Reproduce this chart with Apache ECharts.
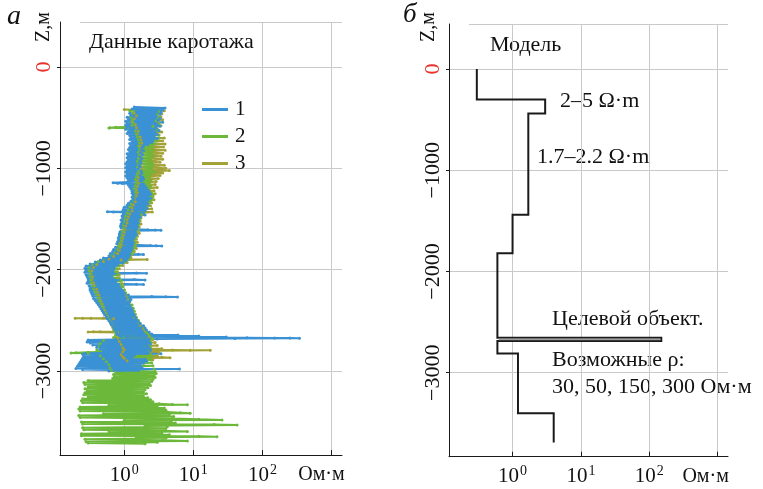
<!DOCTYPE html>
<html>
<head>
<meta charset="utf-8">
<script src="https://cdn.jsdelivr.net/npm/echarts@6/dist/echarts.min.js"></script>
<style>
  html, body { margin: 0; padding: 0; background: #fff; }
  #chart { width: 763px; height: 489px; }
</style>
</head>
<body>
<div id="chart"></div>
<script>
// Axis ranges: depth Z (m) and resistivity (Ohm·m, log scale)
const depthMin = -3830;
const depthMax = 445;
const rhoMin = 0.1175;
const rhoMax = 1420;
const seriesNames = ['1', '2', '3'];

// Well-log curve 1: [depth, resistivity]
const log1 = [
[-395,1.4],[-405,3.9],[-415,1.3],[-425,3.6],[-435,1.5],[-445,3.4],[-455,1.2],[-465,3.3],[-475,1.25],[-485,2.9],
[-495,1.1],[-505,3.3],[-515,1.15],[-525,3.1],[-535,1.05],[-545,3.6],[-555,1.1],[-565,3.0],[-575,1.05],[-585,3.3],
[-595,1.1],[-605,2.9],[-615,1.05],[-625,3.2],[-635,1.15],[-645,2.8],[-655,1.1],[-665,3.0],[-675,1.2],[-685,2.7],
[-695,1.25],[-705,3.0],[-715,1.2],[-725,2.6],[-735,1.3],[-745,2.5],[-755,1.2],[-765,2.2],[-775,1.25],[-785,1.9],
[-795,1.2],[-805,1.8],[-815,1.15],[-825,1.9],[-835,1.2],[-845,1.75],[-855,1.1],[-865,1.85],[-875,1.15],[-885,1.7],
[-895,1.1],[-905,1.8],[-915,1.15],[-925,1.7],[-935,1.1],[-945,1.75],[-955,1.05],[-965,1.65],[-975,1.1],[-985,1.7],
[-995,1.05],[-1005,1.6],[-1015,1.1],[-1025,1.75],[-1035,1.05],[-1045,1.8],[-1055,1.1],[-1065,1.7],[-1075,1.05],[-1085,1.85],
[-1095,1.1],[-1105,1.9],[-1115,1.15],[-1125,1.8],[-1135,1.1],[-1143,0.69],[-1146,0.8],[-1150,0.95],[-1155,1.9],[-1165,1.15],
[-1175,2.0],[-1185,1.2],[-1195,2.1],[-1205,1.25],[-1215,2.2],[-1225,1.3],[-1235,2.3],[-1245,1.3],[-1255,2.4],[-1265,1.35],
[-1275,2.2],[-1285,1.3],[-1295,2.4],[-1305,1.35],[-1315,2.2],[-1325,1.25],[-1335,2.1],[-1345,1.15],[-1355,2.2],[-1365,1.1],
[-1375,2.0],[-1385,1.0],[-1395,2.15],[-1405,0.97],[-1415,2.0],[-1425,0.95],[-1429,0.57],[-1432,0.7],[-1440,1.9],[-1450,0.97],
[-1460,2.0],[-1470,0.93],[-1480,1.7],[-1490,0.95],[-1500,1.6],[-1510,0.9],[-1520,1.55],[-1530,0.93],[-1540,1.6],[-1550,0.9],
[-1560,1.5],[-1570,0.88],[-1580,1.55],[-1590,0.9],[-1600,1.5],[-1607,2.2],[-1609,2.8],[-1611,3.4],[-1615,1.4],[-1625,0.87],
[-1635,1.45],[-1645,0.85],[-1655,1.5],[-1665,0.85],[-1675,1.4],[-1685,0.82],[-1695,1.35],[-1705,0.83],[-1715,1.3],[-1725,0.8],
[-1735,1.35],[-1745,0.78],[-1755,1.3],[-1762,2.4],[-1764,2.9],[-1766,3.5],[-1770,1.25],[-1780,0.75],[-1790,1.3],[-1800,0.7],
[-1810,1.25],[-1820,0.68],[-1830,1.2],[-1840,0.63],[-1848,1.6],[-1851,1.9],[-1855,1.2],[-1865,0.6],[-1875,1.15],[-1885,0.5],
[-1895,1.1],[-1905,0.45],[-1915,1.05],[-1925,0.38],[-1935,0.95],[-1945,0.32],[-1955,0.8],[-1965,0.28],[-1975,0.72],[-1985,0.27],
[-1995,0.7],[-2005,0.28],[-2015,0.68],[-2025,0.27],[-2032,1.5],[-2035,2.1],[-2040,0.7],[-2050,0.28],[-2060,0.66],[-2070,0.29],
[-2080,0.67],[-2090,0.3],[-2098,1.4],[-2101,2.0],[-2105,0.7],[-2115,0.3],[-2125,0.75],[-2135,0.29],[-2143,1.5],[-2146,1.9],
[-2150,0.8],[-2160,0.31],[-2170,0.85],[-2180,0.32],[-2190,0.9],[-2200,0.32],[-2210,0.95],[-2220,0.33],[-2230,1.0],[-2240,0.34],
[-2250,1.15],[-2260,0.35],[-2266,2.5],[-2268,4.0],[-2270,5.9],[-2275,1.2],[-2285,0.36],[-2295,1.25],[-2305,0.38],[-2315,1.2],
[-2325,0.4],[-2335,1.15],[-2345,0.42],[-2355,1.2],[-2365,0.44],[-2375,1.25],[-2385,0.46],[-2395,1.3],[-2405,0.48],[-2415,1.3],
[-2425,0.5],[-2435,1.35],[-2445,0.52],[-2455,1.4],[-2465,0.55],[-2475,1.45],[-2485,0.57],[-2495,1.5],[-2505,0.6],[-2515,1.6],
[-2525,0.63],[-2535,1.7],[-2545,0.65],[-2555,1.9],[-2565,0.7],[-2575,2.0],[-2585,0.72],[-2595,2.1],[-2605,0.75],[-2615,2.3],
[-2625,0.78],[-2635,2.5],[-2640,0.8],[-2645,6],[-2650,0.85],[-2655,12],[-2660,0.9],[-2664,30],[-2668,1.1],[-2672,60],
[-2675,150],[-2676,250],[-2677,344],[-2680,40],[-2684,3],
[-2690,0.75],[-2695,0.3],[-2700,2.2],[-2705,0.3],[-2710,2.0],[-2715,0.29],[-2720,2.3],[-2725,0.32],[-2735,2.4],[-2745,0.35],
[-2755,2.2],[-2765,0.4],[-2775,2.3],[-2785,0.45],[-2795,2.4],[-2805,0.5],[-2815,2.2],[-2825,0.27],[-2830,3.4],[-2835,0.25],
[-2845,1.4],[-2855,0.26],[-2865,1.3],[-2875,0.25],[-2885,2.0],[-2895,0.24],[-2905,2.1],[-2915,0.23],[-2925,1.9],[-2935,0.22],
[-2945,1.7],[-2955,0.21],[-2965,1.8],[-2975,0.2],[-2980,6.3],[-2985,0.25],[-2995,1.6],[-3000,0.6]
];

// Well-log curve 2
const log2 = [
[-430,1.2],[-440,3.2],[-460,1.3],[-470,3.0],[-490,1.25],[-500,3.1],[-520,1.3],[-530,2.9],[-550,1.35],[-560,3.2],
[-575,1.3],[-585,2.6],[-595,0.75],[-598,0.62],[-601,0.6],[-604,1.1],[-615,3.0],[-630,1.45],[-640,2.8],[-660,1.5],
[-670,3.1],[-690,1.55],[-700,3.2],[-720,1.6],[-730,2.9],[-750,1.65],[-760,2.7],[-780,1.6],[-790,2.5],[-810,1.65],
[-820,2.6],[-840,1.6],[-850,2.5],[-870,1.65],[-880,2.6],[-900,1.6],[-910,2.4],[-930,1.55],[-940,2.5],[-960,1.6],
[-970,2.6],[-990,1.55],[-1000,2.5],[-1020,1.6],[-1030,2.7],[-1050,1.55],[-1060,2.4],[-1080,1.5],[-1090,2.3],[-1110,1.45],
[-1120,2.4],[-1140,1.5],[-1150,2.3],[-1170,1.45],[-1180,2.4],[-1200,1.4],[-1210,2.3],[-1230,1.45],[-1240,2.5],[-1260,1.4],
[-1270,2.6],[-1290,1.35],[-1300,2.5],[-1320,1.3],[-1330,2.4],[-1350,1.25],[-1360,2.2],[-1380,1.2],[-1390,2.1],[-1410,1.15],
[-1420,2.0],[-1440,1.1],[-1450,1.8],[-1470,1.05],[-1480,1.7],[-1500,1.0],[-1510,1.65],[-1530,0.98],[-1540,1.6],[-1560,0.95],
[-1570,1.6],[-1590,0.95],[-1600,1.55],[-1620,0.92],[-1630,1.5],[-1650,0.9],[-1660,1.5],[-1680,0.9],[-1690,1.45],[-1710,0.88],
[-1720,1.4],[-1740,0.85],[-1750,1.45],[-1770,0.82],[-1780,1.4],[-1800,0.8],[-1810,1.35],[-1830,0.72],[-1840,1.3],[-1860,0.62],
[-1870,1.2],[-1890,0.5],[-1900,1.15],[-1920,0.42],[-1930,1.0],[-1950,0.34],[-1960,0.85],[-1980,0.31],[-1990,0.78],[-2010,0.31],
[-2020,0.75],[-2040,0.32],[-2050,0.8],[-2070,0.32],[-2080,0.85],[-2100,0.33],[-2110,0.9],[-2130,0.33],[-2140,0.9],[-2160,0.35],
[-2170,0.95],[-2190,0.36],[-2200,1.0],[-2220,0.38],[-2230,1.05],[-2250,0.4],[-2260,1.15],[-2280,0.42],[-2290,1.2],[-2310,0.44],
[-2320,1.2],[-2340,0.46],[-2350,1.3],[-2370,0.48],[-2380,1.35],[-2400,0.5],[-2410,1.4],[-2430,0.53],[-2440,1.45],[-2460,0.56],
[-2470,1.5],[-2490,0.6],[-2500,1.6],[-2520,0.63],[-2530,1.7],[-2550,0.66],[-2560,1.9],[-2580,0.7],[-2590,2.0],[-2610,0.72],
[-2620,2.1],[-2640,0.75],[-2650,2.3],[-2670,0.7],[-2680,2.5],[-2700,0.5],[-2710,2.4],[-2730,0.45],[-2740,2.3],[-2760,0.42],
[-2770,2.4],[-2790,0.4],[-2800,2.3],[-2815,0.3],[-2820,0.2],[-2823,0.17],[-2826,0.3],[-2835,2.4],[-2850,0.45],[-2860,2.5],
[-2880,0.5],[-2890,2.4],[-2910,0.55],[-2920,2.5],[-2940,0.6],[-2950,2.6],[-2970,0.62],[-2980,2.7],[-2995,0.65],
[-3005,2.8],[-3015,0.75],[-3025,2.9],[-3035,0.7],[-3045,2.7],[-3055,0.72],[-3065,2.8],[-3075,0.68],[-3085,2.6],[-3095,0.3],
[-3105,2.5],[-3115,0.26],[-3125,2.3],[-3135,0.27],[-3145,2.4],[-3155,0.3],[-3165,2.2],[-3175,0.27],[-3185,2.0],[-3195,0.29],
[-3205,1.9],[-3215,0.27],[-3225,2.1],[-3235,0.26],[-3245,1.9],[-3255,0.3],[-3265,2.2],[-3275,0.25],[-3285,2.4],[-3295,0.24],
[-3305,2.6],[-3315,0.25],[-3325,3.2],[-3332,5],[-3335,8.2],[-3340,0.6],[-3345,3.0],[-3355,0.23],[-3365,3.8],[-3375,0.22],
[-3385,4.0],[-3395,0.23],[-3405,4.2],[-3412,6.5],[-3418,9.0],[-3422,0.5],[-3430,4.5],[-3440,0.22],[-3450,5.2],[-3460,0.23],
[-3470,5.0],[-3478,12],[-3484,26],[-3488,1.0],[-3495,4.8],[-3505,0.24],[-3515,5.5],[-3525,0.25],[-3530,20],[-3535,43],
[-3540,2.0],[-3550,4.2],[-3560,0.25],[-3570,4.0],[-3580,0.26],[-3590,3.6],[-3597,8.2],[-3602,0.6],[-3610,3.5],[-3620,0.24],
[-3630,4.5],[-3640,0.24],[-3645,12],[-3650,22],[-3655,1.5],[-3665,4.0],[-3675,0.27],[-3685,3.6],[-3692,8.2],[-3698,0.28],
[-3705,3.0],[-3712,0.3],[-3718,2.0]
];

// Well-log curve 3
const log3 = [
[-420,1.0],[-430,3.8],[-450,1.4],[-460,3.5],[-480,1.5],[-490,3.4],[-510,1.4],[-520,3.6],[-540,1.3],[-550,3.1],
[-570,1.45],[-580,3.4],[-600,1.5],[-610,3.0],[-630,1.6],[-640,3.5],[-660,1.55],[-670,3.2],[-690,1.7],[-700,3.8],
[-720,1.75],[-730,3.6],[-750,1.8],[-760,3.9],[-780,1.7],[-790,3.7],[-810,1.85],[-820,3.9],[-840,1.75],[-850,3.6],
[-870,1.8],[-880,3.4],[-900,1.7],[-910,3.6],[-930,1.75],[-940,3.3],[-960,1.7],[-970,3.8],[-990,1.8],[-1000,4.0],
[-1015,1.75],[-1020,4.5],[-1035,1.7],[-1045,3.6],[-1060,1.65],[-1070,3.3],[-1090,1.6],[-1100,3.1],[-1120,1.55],[-1130,2.9],
[-1150,1.6],[-1160,2.8],[-1180,1.55],[-1190,3.0],[-1210,1.5],[-1220,2.7],[-1240,1.55],[-1250,2.8],[-1270,1.5],[-1280,2.6],
[-1300,1.4],[-1310,2.7],[-1330,1.45],[-1340,2.5],[-1360,1.35],[-1370,2.4],[-1390,1.3],[-1400,2.5],[-1420,1.3],[-1430,2.55],
[-1450,1.2],[-1460,1.8],[-1480,1.15],[-1490,1.75],[-1510,1.1],[-1520,1.7],[-1540,1.1],[-1550,1.75],[-1570,1.05],[-1580,1.65],
[-1600,1.0],[-1610,1.6],[-1630,1.0],[-1640,1.65],[-1660,0.97],[-1670,1.55],[-1690,0.95],[-1700,1.5],[-1720,0.92],[-1730,1.55],
[-1750,0.9],[-1760,1.45],[-1780,0.88],[-1790,1.5],[-1810,0.85],[-1820,1.4],[-1840,0.8],[-1850,1.3],[-1870,0.7],[-1880,1.25],
[-1895,0.6],[-1900,2.15],[-1905,0.9],[-1920,0.5],[-1930,1.1],[-1950,0.4],[-1960,0.95],[-1980,0.36],[-1990,0.85],[-2010,0.34],
[-2020,0.8],[-2040,0.33],[-2050,0.85],[-2070,0.35],[-2080,0.8],[-2100,0.34],[-2110,0.9],[-2130,0.36],[-2140,0.95],[-2160,0.37],
[-2170,0.9],[-2190,0.4],[-2200,1.0],[-2220,0.41],[-2230,1.05],[-2250,0.43],[-2260,1.1],[-2280,0.44],[-2290,1.15],[-2310,0.46],
[-2320,1.2],[-2340,0.48],[-2350,1.25],[-2370,0.5],[-2380,1.3],[-2400,0.52],[-2410,1.35],[-2430,0.54],[-2440,1.4],[-2460,0.57],
[-2470,1.4],[-2477,0.5],[-2479,0.33],[-2480,0.25],[-2481,0.195],[-2484,0.7],[-2490,1.5],[-2510,0.62],[-2520,1.6],[-2540,0.65],
[-2550,1.7],[-2570,0.68],[-2580,1.9],[-2600,0.7],[-2605,2.0],[-2612,0.45],[-2614,0.36],[-2616,0.3],[-2620,0.8],[-2630,2.2],
[-2650,0.75],[-2660,2.3],[-2680,0.8],[-2690,2.6],[-2710,0.85],[-2720,2.8],[-2740,0.9],[-2750,3.0],[-2770,0.95],[-2780,3.5],
[-2790,1.0],[-2793,5],[-2795,9],[-2797,17.6],[-2800,3.0],[-2810,0.95],[-2820,3.2],[-2840,0.9],[-2850,3.0],[-2860,0.95],
[-2866,3.5],[-2870,4.6],[-2875,1.0],[-2890,2.6],[-2900,1.1]
];

// Layered resistivity model (step profile)
const modelDepth = [0, -300, -300, -440, -440, -1440, -1440, -1820, -1820, -2655, -2655, -2688, -2688, -2810, -2810, -3400, -3400, -3690];
const modelRho   = [0.3, 0.3, 3.0, 3.0, 1.7, 1.7, 1.0, 1.0, 0.6, 0.6, 150, 150, 0.6, 0.6, 1.2, 1.2, 4.0, 4.0];
// Thin target layer (filled band inside the model outline)
const targetDepth = -2671;
const targetRho = [0.63, 146];

const colors = ['#3a91d4', '#6cb83a', '#a2a236'];
const legendColors = ['#2a78c2', '#4fb04a', '#8c8c55'];
const SERIF = '"Liberation Serif", "DejaVu Serif", serif';
const GRID_COLOR = '#c9c9c9';
const AXIS_COLOR = '#1a1a1a';

const toXY = arr => arr.map(p => [p[1], p[0]]);

function rhoAxis(gridIndex, unitPad) {
  return {
    type: 'log', logBase: 10, gridIndex: gridIndex,
    min: rhoMin, max: rhoMax,
    axisLine: { onZero: false, lineStyle: { color: AXIS_COLOR, width: 1 } },
    axisTick: { inside: true, length: 5, lineStyle: { color: AXIS_COLOR } },
    splitLine: { show: true, showMinLine: false, showMaxLine: false, lineStyle: { color: GRID_COLOR, width: 1 } },
    axisLabel: {
      margin: 8, showMinLabel: false, showMaxLabel: false,
      formatter: function (v) {
        const lg = Math.log10(v);
        const e = Math.round(lg);
        if (Math.abs(lg - e) > 1e-6) return '';
        if (e === 3) return '{u|Ом·м}';
        return '{b|10}{s|' + e + '}';
      },
      rich: {
        b: { fontFamily: SERIF, fontSize: 21, color: '#111', lineHeight: 24 },
        s: { fontFamily: SERIF, fontSize: 14, color: '#111', verticalAlign: 'top', lineHeight: 14, padding: [0, 0, 0, 1] },
        u: { fontFamily: SERIF, fontSize: 20, color: '#111', lineHeight: 24, padding: [0, unitPad, 0, 0] }
      }
    }
  };
}

function depthAxis(gridIndex) {
  return {
    type: 'value', gridIndex: gridIndex,
    min: depthMin, max: depthMax, splitNumber: 5,
    axisLine: { onZero: false, lineStyle: { color: AXIS_COLOR, width: 1 } },
    axisTick: { show: true, length: 3, lineStyle: { color: AXIS_COLOR } },
    splitLine: { show: true, showMinLine: false, showMaxLine: false, lineStyle: { color: GRID_COLOR, width: 1 } },
    axisLabel: {
      rotate: 90, margin: 5, showMinLabel: false, showMaxLabel: false,
      fontFamily: SERIF, fontSize: 22,
      color: v => (Number(v) === 0 ? '#e8322c' : '#111'),
      formatter: v => (v % 1000 === 0 ? (v < 0 ? '\u2212' + Math.abs(v) : String(v)) : '')
    }
  };
}

function topEdge() {
  // upper frame line that starts a little right of the depth axis
  return {
    silent: true, symbol: ['none', 'none'], label: { show: false },
    lineStyle: { color: GRID_COLOR, type: 'solid', width: 1 },
    data: [[{ coord: [0.23, depthMax] }, { coord: [rhoMax, depthMax] }]]
  };
}

function logSeries(name, data, idx, withEdge) {
  const s = {
    name: name, type: 'line', xAxisIndex: 0, yAxisIndex: 0,
    data: toXY(data),
    symbol: 'circle', symbolSize: 3, showSymbol: true,
    lineStyle: { color: colors[idx], width: 2 },
    itemStyle: { color: colors[idx] },
    color: legendColors[idx],
    emphasis: { disabled: true }, silent: true, animation: false
  };
  if (withEdge) s.markLine = topEdge();
  return s;
}

const chart = echarts.init(document.getElementById('chart'), null, { renderer: 'canvas' });

const option = {
  animation: false,
  backgroundColor: '#ffffff',
  grid: [
    { left: 60, top: 22, width: 282, height: 433, outerBoundsMode: 'none', containLabel: false },
    { left: 449, top: 24, width: 279, height: 432.7, outerBoundsMode: 'none', containLabel: false }
  ],
  xAxis: [rhoAxis(0, 20), rhoAxis(1, 24)],
  yAxis: [depthAxis(0), depthAxis(1)],
  legend: {
    data: seriesNames,
    orient: 'vertical', left: 197, top: 94,
    icon: 'rect', itemWidth: 26, itemHeight: 3, itemGap: 6,
    textStyle: { fontFamily: SERIF, fontSize: 21, color: '#111', padding: [0, 0, 0, 2] },
    selectedMode: false
  },
  series: [
    logSeries(seriesNames[2], log3, 2, false),
    logSeries(seriesNames[1], log2, 1, false),
    logSeries(seriesNames[0], log1, 0, true),
    {
      name: 'model', type: 'line', xAxisIndex: 1, yAxisIndex: 1,
      data: modelRho.map((r, i) => [r, modelDepth[i]]),
      showSymbol: false, symbol: 'none',
      lineStyle: { color: '#1a1a1a', width: 2, join: 'miter' },
      emphasis: { disabled: true }, silent: true, animation: false,
      markLine: topEdge()
    },
    {
      name: 'target', type: 'line', xAxisIndex: 1, yAxisIndex: 1,
      data: targetRho.map(r => [r, targetDepth]),
      showSymbol: false, symbol: 'none',
      lineStyle: { color: '#9a9a9a', width: 1.8 },
      emphasis: { disabled: true }, silent: true, animation: false
    }
  ],
  graphic: [
    { type: 'text', left: 7, top: 3, style: { text: 'а', font: 'italic 28px ' + SERIF, fill: '#111' } },
    { type: 'text', left: 403, top: 1, style: { text: 'б', font: 'italic 27px ' + SERIF, fill: '#111' } },
    { type: 'text', x: 44, y: 27, rotation: Math.PI / 2,
      style: { text: 'Z,м', font: '20px ' + SERIF, fill: '#111', align: 'center', verticalAlign: 'middle', textAlign: 'center', textVerticalAlign: 'middle' } },
    { type: 'text', x: 429, y: 27, rotation: Math.PI / 2,
      style: { text: 'Z,м', font: '20px ' + SERIF, fill: '#111', align: 'center', verticalAlign: 'middle', textAlign: 'center', textVerticalAlign: 'middle' } },
    { type: 'text', left: 89, top: 31, style: { text: 'Данные каротажа', font: '22px ' + SERIF, fill: '#111' } },
    { type: 'text', left: 490, top: 34, style: { text: 'Модель', font: '22px ' + SERIF, fill: '#111' } },
    { type: 'text', left: 560, top: 90, style: { text: '2–5 Ω·m', font: '22px ' + SERIF, fill: '#111' } },
    { type: 'text', left: 537, top: 146, style: { text: '1.7–2.2 Ω·m', font: '22px ' + SERIF, fill: '#111' } },
    { type: 'text', left: 552, top: 308, style: { text: 'Целевой объект.', font: '22px ' + SERIF, fill: '#111' } },
    { type: 'text', left: 552, top: 349, style: { text: 'Возможные ρ:', font: '22px ' + SERIF, fill: '#111' } },
    { type: 'text', left: 552, top: 376, style: { text: '30, 50, 150, 300 Ом·м', font: '22px ' + SERIF, fill: '#111' } }
  ]
};

chart.setOption(option);
</script>
</body>
</html>
